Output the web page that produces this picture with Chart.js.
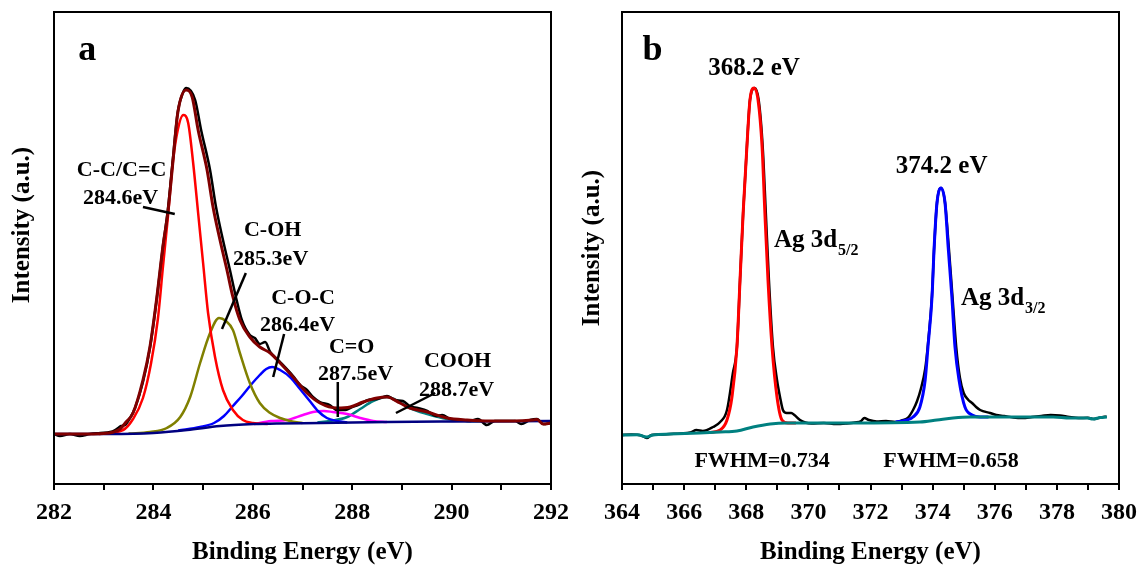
<!DOCTYPE html>
<html><head><meta charset="utf-8">
<script src="https://cdn.jsdelivr.net/npm/chart.js@4.4.1/dist/chart.umd.min.js"></script>
<style>
html,body{margin:0;padding:0;background:#fff;}
#wrap{position:relative;width:1140px;height:565px;overflow:hidden;}
.pane{position:absolute;top:0;width:570px;height:565px;}
</style></head><body>
<div id="wrap">
<div class="pane" style="left:0"><canvas id="ca" width="570" height="565"></canvas></div>
<div class="pane" style="left:570px"><canvas id="cb" width="570" height="565"></canvas></div>
</div>
<script>
// ---------- Panel a : C 1s (binding energy eV, intensity a.u.) ----------
const aTicksX = [282, 284, 286, 288, 290, 292];
const aData = [[282.0,500],[282.12,480],[282.32,500],[282.52,480],[282.72,500],[282.93,510],[283.13,520],[283.23,540],[283.29,560],[283.35,580],[283.43,590],[283.53,660],[283.63,760],[283.79,1020],[283.93,1360],[284.07,1860],[284.19,2370],[284.29,2740],[284.39,3240],[284.49,3720],[284.60,3920],[284.66,3960],[284.84,3840],[284.96,3540],[285.14,3140],[285.26,2770],[285.40,2440],[285.54,2140],[285.66,1870],[285.78,1640],[285.94,1490],[286.04,1460],[286.14,1400],[286.25,1420],[286.35,1320],[286.55,1220],[286.81,1080],[286.95,990],[287.09,940],[287.21,870],[287.35,820],[287.55,790],[287.69,740],[287.86,740],[287.96,760],[288.16,800],[288.32,840],[288.50,850],[288.70,880],[288.86,840],[289.02,830],[289.16,780],[289.32,760],[289.51,730],[289.69,680],[289.81,690],[289.97,650],[290.17,640],[290.37,630],[290.53,650],[290.71,590],[290.87,630],[291.07,630],[291.28,630],[291.40,600],[291.58,640],[291.72,650],[291.84,600],[292.0,610]];
const aEnvelope = [[282.0,500],[282.5,500],[283.0,505],[283.2,520],[283.33,550],[283.45,620],[283.59,710],[283.79,1040],[283.93,1370],[284.07,1870],[284.19,2370],[284.29,2710],[284.39,3210],[284.49,3710],[284.66,3940],[284.78,3870],[284.90,3540],[285.08,3140],[285.20,2770],[285.34,2440],[285.48,2140],[285.60,1870],[285.74,1640],[285.94,1470],[286.14,1370],[286.35,1310],[286.55,1210],[286.81,1070],[287.09,910],[287.35,810],[287.69,760],[287.96,770],[288.22,820],[288.50,860],[288.70,870],[288.96,810],[289.16,760],[289.51,720],[289.91,660],[290.31,640],[290.77,630],[291.24,630],[291.64,640],[291.72,645],[291.84,600],[292.0,610]];
const aBackground = [[282.0,500],[283.0,500],[283.6,502],[284.0,510],[284.68,540],[285.34,580],[286.02,600],[286.5,606],[287.37,610],[288.7,620],[290.0,625],[292.0,630]];
const aCC = [[282.9,500],[283.39,540],[283.59,650],[283.79,860],[283.95,1200],[284.09,1650],[284.19,2160],[284.29,2660],[284.39,3210],[284.49,3540],[284.60,3690],[284.70,3610],[284.80,3210],[284.90,2710],[285.00,2210],[285.10,1710],[285.24,1270],[285.40,940],[285.60,740],[285.80,640],[286.0,610],[286.3,600]];
const aCOH = [[283.5,505],[283.93,520],[284.27,560],[284.54,670],[284.74,870],[284.94,1210],[285.14,1510],[285.32,1660],[285.46,1630],[285.60,1540],[285.74,1310],[285.94,1010],[286.14,810],[286.35,710],[286.55,660],[286.75,630],[287.0,610]];
const aCOC = [[284.5,535],[284.94,570],[285.22,610],[285.42,680],[285.60,780],[285.78,880],[285.96,990],[286.14,1090],[286.27,1150],[286.39,1170],[286.55,1140],[286.77,1060],[286.95,950],[287.13,840],[287.31,730],[287.49,660],[287.69,630],[287.9,615]];
const aCO = [[286.02,600],[286.37,630],[286.69,640],[287.01,690],[287.21,720],[287.43,730],[287.61,720],[287.90,700],[288.16,660],[288.42,630],[288.70,620]];
const aCOOH = [[287.3,615],[287.55,630],[287.90,670],[288.16,750],[288.42,830],[288.70,870],[288.96,820],[289.16,760],[289.51,700],[289.91,650],[290.31,630],[290.6,627]];

// ---------- Panel b : Ag 3d ----------
const bTicksX = [364, 366, 368, 370, 372, 374, 376, 378, 380];
const bData = [[364.0,490],[364.3,495],[364.6,488],[364.8,460],[364.95,490],[365.2,495],[365.55,500],[365.9,505],[366.2,515],[366.4,540],[366.6,530],[366.93,570],[367.16,620],[367.38,740],[367.57,1110],[367.7,1370],[367.8,2040],[367.9,2710],[368.02,3370],[368.12,3840],[368.27,3960],[368.4,3840],[368.53,3370],[368.63,2710],[368.73,2040],[368.86,1370],[368.99,1040],[369.1,850],[369.18,740],[369.3,710],[369.45,710],[369.55,690],[369.73,640],[369.9,615],[370.1,605],[370.5,610],[370.9,600],[371.2,605],[371.5,615],[371.7,630],[371.8,660],[371.95,640],[372.2,625],[372.5,630],[372.8,620],[373.0,635],[373.2,660],[373.37,740],[373.5,830],[373.62,950],[373.76,1150],[373.85,1400],[373.98,1890],[374.05,2370],[374.14,2810],[374.27,2960],[374.4,2810],[374.52,2370],[374.64,1870],[374.76,1370],[374.88,1060],[375.0,910],[375.15,840],[375.27,810],[375.4,770],[375.53,740],[375.85,710],[376.05,690],[376.3,680],[376.6,665],[376.9,660],[377.2,670],[377.5,680],[377.8,690],[378.1,685],[378.4,670],[378.7,660],[379.0,662],[379.2,650],[379.4,665],[379.6,675]];
const bBackground = [[364.0,490],[364.5,492],[364.8,470],[365.0,490],[365.55,500],[366.5,510],[367.16,520],[367.7,530],[368.22,570],[368.77,600],[369.31,610],[371.44,610],[373.59,620],[374.14,640],[374.66,660],[375.2,670],[377.88,670],[378.42,660],[378.97,660],[379.16,650],[379.4,665],[379.61,670]];
const bAg52 = [[366.8,515],[367.16,540],[367.38,640],[367.54,870],[367.7,1370],[367.8,2040],[367.9,2710],[368.02,3370],[368.12,3840],[368.25,3960],[368.38,3840],[368.51,3370],[368.6,2710],[368.7,2040],[368.83,1370],[368.99,870],[369.15,640],[369.34,610],[369.6,610]];
const bAg32 = [[372.8,618],[373.18,640],[373.37,670],[373.59,770],[373.76,1040],[373.85,1370],[373.98,1870],[374.05,2370],[374.14,2810],[374.27,2960],[374.4,2810],[374.5,2370],[374.62,1870],[374.72,1370],[374.85,1040],[375.04,770],[375.27,690],[375.53,670],[375.8,670]];

// ---------- annotations (data units) ----------
const aLabels = [
  {t:'a', x:282.67, y:4240, size:36},
  {t:'C-C/C=C', x:283.36, y:3080}, {t:'284.6eV', x:283.34, y:2800},
  {t:'C-OH', x:286.40, y:2480}, {t:'285.3eV', x:286.36, y:2190},
  {t:'C-O-C', x:287.01, y:1800}, {t:'286.4eV', x:286.90, y:1530},
  {t:'C=O', x:287.99, y:1310}, {t:'287.5eV', x:288.07, y:1040},
  {t:'COOH', x:290.12, y:1170}, {t:'288.7eV', x:290.10, y:880}
];
const aLeaders = [[283.79,2770,284.43,2700],[285.86,2110,285.38,1550],[286.63,1500,286.41,1070],[287.71,1020,287.71,670],[289.67,910,288.88,710]];
const bLabels = [
  {t:'b', x:364.98, y:4240, size:36},
  {t:'368.2 eV', x:368.25, y:4090, size:25},
  {t:'374.2 eV', x:374.29, y:3110, size:25},
  {t:'Ag 3d', sub:'5/2', x:368.89, y:2370, size:25, left:true},
  {t:'Ag 3d', sub:'3/2', x:374.91, y:1790, size:25, left:true},
  {t:'FWHM=0.734', x:368.51, y:170, size:22},
  {t:'FWHM=0.658', x:374.59, y:170, size:22}
];

const FONT = "'Liberation Serif','Times New Roman',serif";
const toXY = arr => arr.map(p => ({x:p[0], y:p[1]}));

function annoPlugin(labels, leaders, yTitle, yTitleValue){
  return {
    id:'anno',
    afterDraw(chart){
      const {ctx, chartArea:ca, scales:{x, y}} = chart;
      ctx.save();
      ctx.strokeStyle = '#000'; ctx.lineWidth = 2;
      ctx.strokeRect(ca.left, ca.top, ca.right - ca.left, ca.bottom - ca.top);
      ctx.lineWidth = 2.5; ctx.lineCap = 'butt';
      (leaders || []).forEach(l => {
        ctx.beginPath();
        ctx.moveTo(x.getPixelForValue(l[0]), y.getPixelForValue(l[1]));
        ctx.lineTo(x.getPixelForValue(l[2]), y.getPixelForValue(l[3]));
        ctx.stroke();
      });
      ctx.fillStyle = '#000'; ctx.textBaseline = 'alphabetic';
      labels.forEach(L => {
        const size = L.size || 22;
        ctx.font = 'bold ' + size + 'px ' + FONT;
        const px = x.getPixelForValue(L.x), py = y.getPixelForValue(L.y);
        if (L.left){
          ctx.textAlign = 'left';
          ctx.fillText(L.t, px, py);
          const w = ctx.measureText(L.t).width;
          if (L.sub){
            ctx.font = 'bold ' + Math.round(size*0.62) + 'px ' + FONT;
            ctx.fillText(L.sub, px + w + 1, py + 8);
          }
        } else {
          ctx.textAlign = 'center';
          ctx.fillText(L.t, px, py);
        }
      });
      // y-axis title (rotated), centred at the given intensity value
      ctx.font = 'bold 25px ' + FONT;
      ctx.textAlign = 'center'; ctx.textBaseline = 'middle';
      ctx.translate(23, y.getPixelForValue(yTitleValue));
      ctx.rotate(-Math.PI/2);
      ctx.fillText(yTitle, 0, 0);
      ctx.restore();
    }
  };
}

function line(data, color, width, order){
  return {data: toXY(data), borderColor: color, backgroundColor: color, borderWidth: width,
          pointRadius: 0, fill: false, cubicInterpolationMode: 'monotone', order: order};
}

function makeChart(id, xmin, xmax, yAxisW, padRight, datasets, labels, leaders, yTitleValue){
  return new Chart(document.getElementById(id), {
    type: 'line',
    data: {datasets: datasets},
    options: {
      responsive: false, animation: false,
      layout: {padding: {top: 12, right: padRight, bottom: 0, left: 0}},
      plugins: {legend: {display: false}, tooltip: {enabled: false}},
      scales: {
        x: {
          type: 'linear', position: 'bottom', min: xmin, max: xmax,
          afterFit(s){ s.height = 81; s.paddingLeft = 0; s.paddingRight = 0; },
          ticks: {stepSize: 1, autoSkip: false, maxRotation: 0, padding: 8, color: '#000',
                  font: {family: FONT, weight: 'bold', size: 24},
                  callback: v => (Math.round(v) % 2 === 0 ? String(Math.round(v)) : '')},
          grid: {drawOnChartArea: false, drawTicks: true, tickLength: 6, color: '#000', lineWidth: 2},
          border: {display: false},
          title: {display: true, text: 'Binding Energy (eV)', color: '#000',
                  font: {family: FONT, weight: 'bold', size: 25, lineHeight: 1}, padding: {top: 0, bottom: 0}}
        },
        y: {
          min: 0, max: 4720,
          afterFit(s){ s.width = yAxisW; },
          ticks: {display: false}, grid: {display: false}, border: {display: false},
          title: {display: false}
        }
      }
    },
    plugins: [annoPlugin(labels, leaders, 'Intensity (a.u.)', yTitleValue)]
  });
}

makeChart('ca', 282, 292, 54, 19, [
  line(aEnvelope, '#800000', 3, 0),
  line(aBackground, '#000080', 2.5, 1),
  line(aData, '#000000', 2.5, 2),
  line(aCC, '#ff0000', 2.5, 3),
  line(aCOH, '#808000', 2.5, 3),
  line(aCOC, '#0000ff', 2.5, 3),
  line(aCO, '#ff00ff', 2.5, 3),
  line(aCOOH, '#008080', 2.5, 3)
], aLabels, aLeaders, 2590);

makeChart('cb', 364, 380, 52, 21, [
  line(bBackground, '#008080', 3, 0),
  line(bAg52, '#ff0000', 3, 1),
  line(bAg32, '#0000ff', 3, 1),
  line(bData, '#000000', 2.5, 2)
], bLabels, [], 2360);
</script>
</body></html>
